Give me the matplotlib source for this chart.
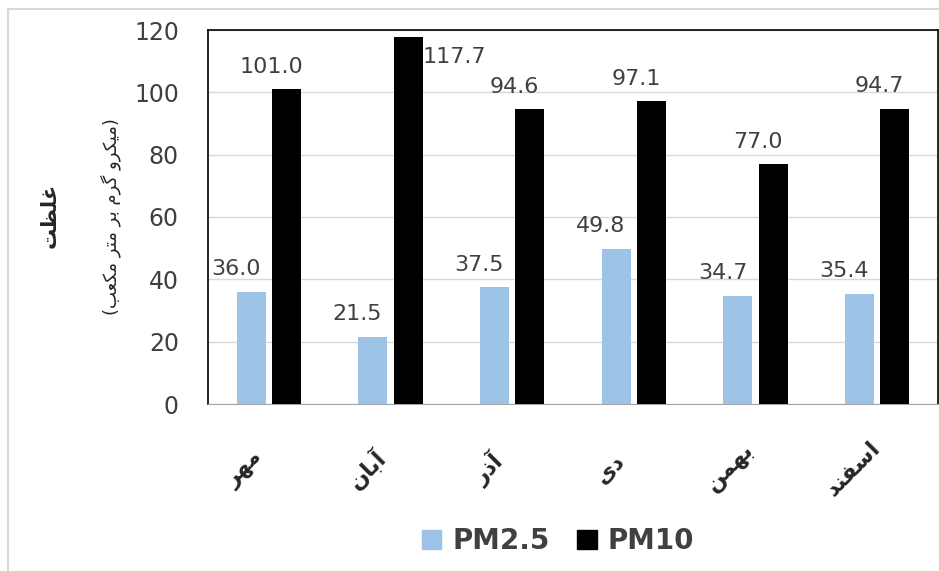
import numpy as np
import matplotlib
matplotlib.use("Agg")
import matplotlib.pyplot as plt
from matplotlib.lines import Line2D
from matplotlib.patches import Patch
from matplotlib.transforms import ScaledTranslation

# data (monthly mean concentration, µg/m³)
months = ["مهر", "آبان", "آذر", "دی", "بهمن", "اسفند"]
pm25 = [36.0, 21.5, 37.5, 49.8, 34.7, 35.4]
pm10 = [101.0, 117.7, 94.6, 97.1, 77.0, 94.7]
series_names = ["PM2.5", "PM10"]
ylabel_main = "غلظت"
ylabel_unit = "(میکرو گرم بر متر مکعب)"

# minimal Persian shaping: (isolated, final, initial, medial)
FORMS = {
    "ا": ("\uFE8D", "\uFE8E", None, None),
    "آ": ("\uFE81", "\uFE82", None, None),
    "ب": ("\uFE8F", "\uFE90", "\uFE91", "\uFE92"),
    "ت": ("\uFE95", "\uFE96", "\uFE97", "\uFE98"),
    "د": ("\uFEA9", "\uFEAA", None, None),
    "ذ": ("\uFEAB", "\uFEAC", None, None),
    "ر": ("\uFEAD", "\uFEAE", None, None),
    "س": ("\uFEB1", "\uFEB2", "\uFEB3", "\uFEB4"),
    "ظ": ("\uFEC5", "\uFEC6", "\uFEC7", "\uFEC8"),
    "ع": ("\uFEC9", "\uFECA", "\uFECB", "\uFECC"),
    "غ": ("\uFECD", "\uFECE", "\uFECF", "\uFED0"),
    "ف": ("\uFED1", "\uFED2", "\uFED3", "\uFED4"),
    "ک": ("\uFB8E", "\uFB8F", "\uFB90", "\uFB91"),
    "گ": ("\uFB92", "\uFB93", "\uFB94", "\uFB95"),
    "ل": ("\uFEDD", "\uFEDE", "\uFEDF", "\uFEE0"),
    "م": ("\uFEE1", "\uFEE2", "\uFEE3", "\uFEE4"),
    "ن": ("\uFEE5", "\uFEE6", "\uFEE7", "\uFEE8"),
    "ه": ("\uFEE9", "\uFEEA", "\uFEEB", "\uFEEC"),
    "و": ("\uFEED", "\uFEEE", None, None),
    "ی": ("\uFBFC", "\uFBFD", "\uFBFE", "\uFBFF"),
}
MIRROR = {"(": ")", ")": "("}


def fa(text):
    chars = list(text)
    out = []
    for i, c in enumerate(chars):
        if c not in FORMS:
            out.append(MIRROR.get(c, c))
            continue
        prev = chars[i - 1] if i > 0 else None
        nxt = chars[i + 1] if i + 1 < len(chars) else None
        jp = prev in FORMS and FORMS[prev][2] is not None
        jn = nxt in FORMS and FORMS[c][2] is not None
        iso, fin, ini, med = FORMS[c]
        out.append(med if jp and jn else fin if jp else ini if jn else iso)
    return "".join(reversed(out))


TXT = "#404040"
C25, C10 = "#9DC3E6", "#000000"
YMAX = 120

fig = plt.figure(figsize=(9.39, 5.71), dpi=100)
ax = fig.add_axes([208 / 939, 1 - 404 / 571, 730 / 939, 374 / 571])

x = np.arange(len(months))
w, off = 0.24, 0.145
b1 = ax.bar(x - off, pm25, w, color=C25, zorder=3)
b2 = ax.bar(x + off, pm10, w, color=C10, zorder=3)

for bars, vals in ((b1, pm25), (b2, pm10)):
    for r, v in zip(bars, vals):
        if v > YMAX - 10:   # no room above: put it beside the bar
            ax.annotate(f"{v:.1f}", (r.get_x() + r.get_width(), v),
                        xytext=(0, -7), textcoords="offset points",
                        ha="left", va="top", fontsize=16, color=TXT)
        else:
            ax.annotate(f"{v:.1f}", (r.get_x() + r.get_width() / 2, v),
                        xytext=(-11, 9), textcoords="offset points",
                        ha="center", va="bottom", fontsize=16, color=TXT)

ax.set_xlim(-0.5, len(months) - 0.5)
ax.set_ylim(0, YMAX)
ax.set_yticks(range(0, YMAX + 1, 20))
ax.tick_params(axis="y", length=0, labelsize=17, labelcolor=TXT, pad=21)
ax.tick_params(axis="x", length=0)
ax.set_xticks(x)
ax.set_xticklabels([fa(m) for m in months], rotation=45, fontsize=16,
                   fontweight="bold", color="#262626", ha="center", va="center")
shift = ScaledTranslation(-0.24, -0.6, fig.dpi_scale_trans)
for lbl in ax.get_xticklabels():
    lbl.set_transform(lbl.get_transform() + shift)
ax.grid(axis="y", color="#d9d9d9", lw=1, zorder=0)
for s in ("left", "top", "right"):
    ax.spines[s].set_color("black")
    ax.spines[s].set_linewidth(1.2)
ax.spines["bottom"].set_color("#a6a6a6")

fig.text(50 / 939, 1 - 215 / 571, fa(ylabel_main), rotation=90, fontsize=15,
         fontweight="bold", color="#262626", ha="center", va="center")
fig.text(111 / 939, 1 - 217 / 571, fa(ylabel_unit), rotation=90, fontsize=13,
         color="#262626", ha="center", va="center")

handles = [Patch(color=C25), Patch(color=C10)]
fig.legend(handles, series_names, loc="center", bbox_to_anchor=(558 / 939, 1 - 541 / 571),
           ncol=2, frameon=False, prop={"size": 20, "weight": "bold"},
           labelcolor=TXT, handlelength=0.7, handleheight=0.7, columnspacing=1.0,
           handletextpad=0.4)

# outer chart border
fig.add_artist(Line2D([8 / 939, 1], [1 - 9 / 571] * 2, color="#d9d9d9", lw=1.5,
                      transform=fig.transFigure))
fig.add_artist(Line2D([8 / 939] * 2, [0, 1 - 9 / 571], color="#d9d9d9", lw=1.5,
                      transform=fig.transFigure))

fig.savefig("out.png", dpi=100)
